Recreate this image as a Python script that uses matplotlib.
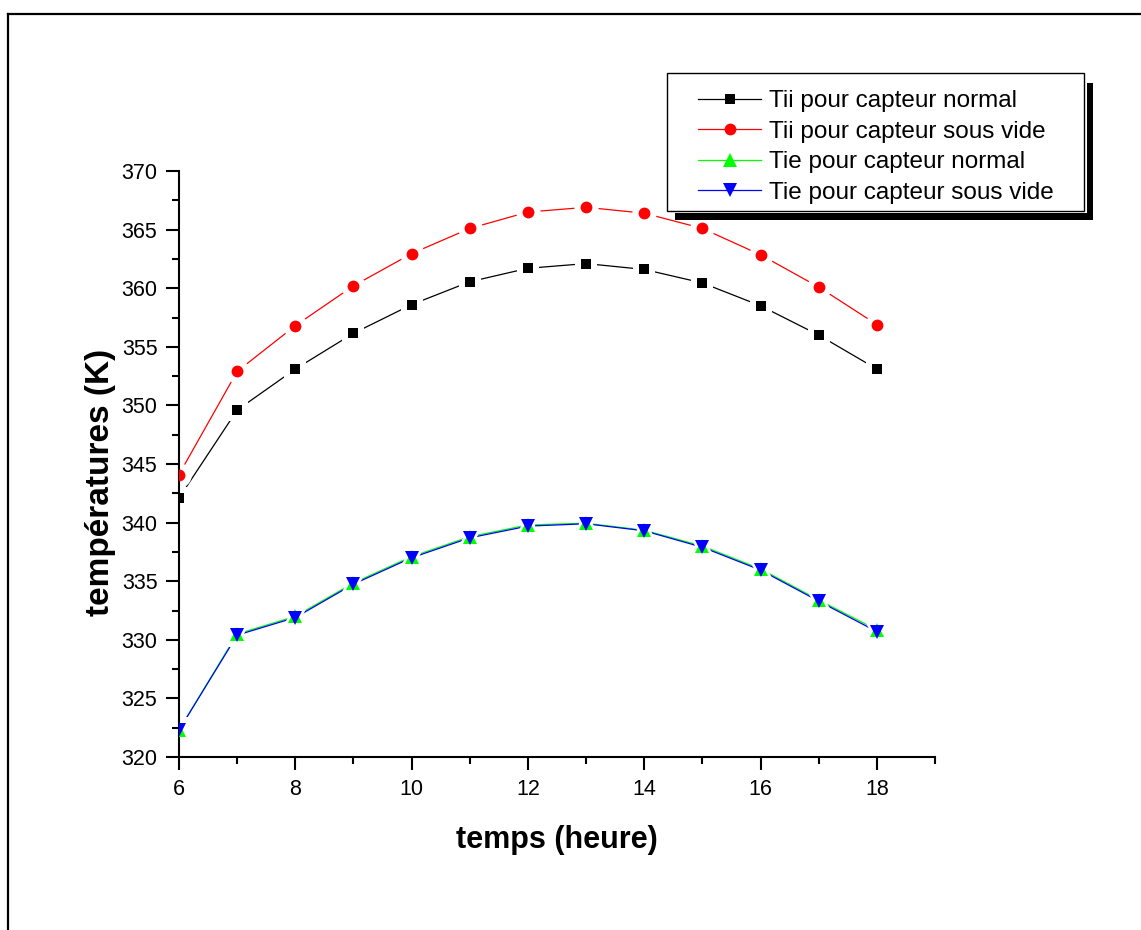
import numpy as np
import matplotlib
matplotlib.use('Agg')
import matplotlib.pyplot as plt
from matplotlib.lines import Line2D
from matplotlib.patches import Rectangle

plt.rcParams['font.family'] = ['Liberation Sans', 'DejaVu Sans']

heures = [6, 7, 8, 9, 10, 11, 12, 13, 14, 15, 16, 17, 18]
tii_normal = [342.1, 349.6, 353.1, 356.15, 358.6, 360.55, 361.7, 362.1, 361.6, 360.45, 358.5, 356.0, 353.1]
tii_vide = [344.1, 352.9, 356.8, 360.2, 362.95, 365.1, 366.5, 366.9, 366.4, 365.1, 362.85, 360.1, 356.9]
tie_normal = [322.3, 330.5, 332.0, 334.85, 337.1, 338.8, 339.8, 339.95, 339.35, 338.0, 336.05, 333.4, 330.85]
tie_vide = [322.3, 330.4, 331.9, 334.75, 337.0, 338.7, 339.7, 339.9, 339.3, 337.9, 335.95, 333.3, 330.7]

labels = ['Tii pour capteur normal', 'Tii pour capteur sous vide',
          'Tie pour capteur normal', 'Tie pour capteur sous vide']
series = [tii_normal, tii_vide, tie_normal, tie_vide]
colors = ['black', '#ff0000', '#00ff00', '#0000ff']
markers = ['s', 'o', '^', 'v']
sizes = [7.5, 8.5, 9.5, 9.5]

W, H = 1141, 930
fig = plt.figure(figsize=(W / 100, H / 100), dpi=100)
ax = fig.add_axes([179 / W, 1 - 757 / H, (935 - 179) / W, (757 - 171) / H])

for y, c, m, s in zip(series, colors, markers, sizes):
    ax.plot(heures, y, color=c, lw=0.9, zorder=2)
    ax.plot(heures, y, ls='none', marker=m, ms=s + 9, color='white', mew=0, zorder=2.5)
    ax.plot(heures, y, ls='none', marker=m, ms=s, color=c, mew=0, zorder=3)

ax.set_xlim(6, 19)
ax.set_ylim(320, 370)
ax.set_xticks([6, 8, 10, 12, 14, 16, 18])
ax.set_xticks([7, 9, 11, 13, 15, 17, 19], minor=True)
ax.set_yticks(np.arange(320, 371, 5))
ax.set_yticks(np.arange(322.5, 370, 5), minor=True)
for side in ['top', 'right']:
    ax.spines[side].set_visible(False)
for side in ['left', 'bottom']:
    ax.spines[side].set_linewidth(1.5)
ax.tick_params(which='major', direction='out', length=9.5, width=1.5, labelsize=15.5, pad=6)
ax.tick_params(which='minor', direction='out', length=5, width=1.5)

ax.set_xlabel('temps (heure)', fontsize=22, fontweight='bold', labelpad=18)
ax.set_ylabel('températures (K)', fontsize=24, fontweight='bold')
ax.yaxis.set_label_coords(-0.083, 0.469)

# legend frame with black drop shadow
fig.add_artist(Rectangle((675 / W, 1 - 220 / H), (1093 - 675) / W, (220 - 83) / H,
                         transform=fig.transFigure, facecolor='black', edgecolor='none', zorder=5))
fig.add_artist(Rectangle((664 / W, 1 - 213 / H), (1086.5 - 664) / W, (213 - 70) / H,
                         transform=fig.transFigure, facecolor='white', edgecolor='none', zorder=5.1))
fig.add_artist(Rectangle((667 / W, 1 - 211 / H), (1084 - 667) / W, (211 - 73) / H,
                         transform=fig.transFigure, facecolor='white', edgecolor='black', lw=1, zorder=5.2))

handles = [Line2D([], [], color=c, lw=0.9, marker=m, ms=s, mew=0)
           for c, m, s in zip(colors, markers, sizes)]
leg = fig.legend(handles, labels, loc='upper left', bbox_to_anchor=(686 / W, 1 - 78 / H),
                 frameon=False, fontsize=17.5, handlelength=2.6, handletextpad=0.3,
                 labelspacing=0.35, borderpad=0)
leg.set_zorder(6)

# outer page border (only top and left fall inside the image)
fig.add_artist(Line2D([8 / W, 1.0], [1 - 14 / H, 1 - 14 / H], color='black', lw=1.6))
fig.add_artist(Line2D([8 / W, 8 / W], [0.0, 1 - 14 / H], color='black', lw=1.6))

fig.savefig('out.png', dpi=100)
